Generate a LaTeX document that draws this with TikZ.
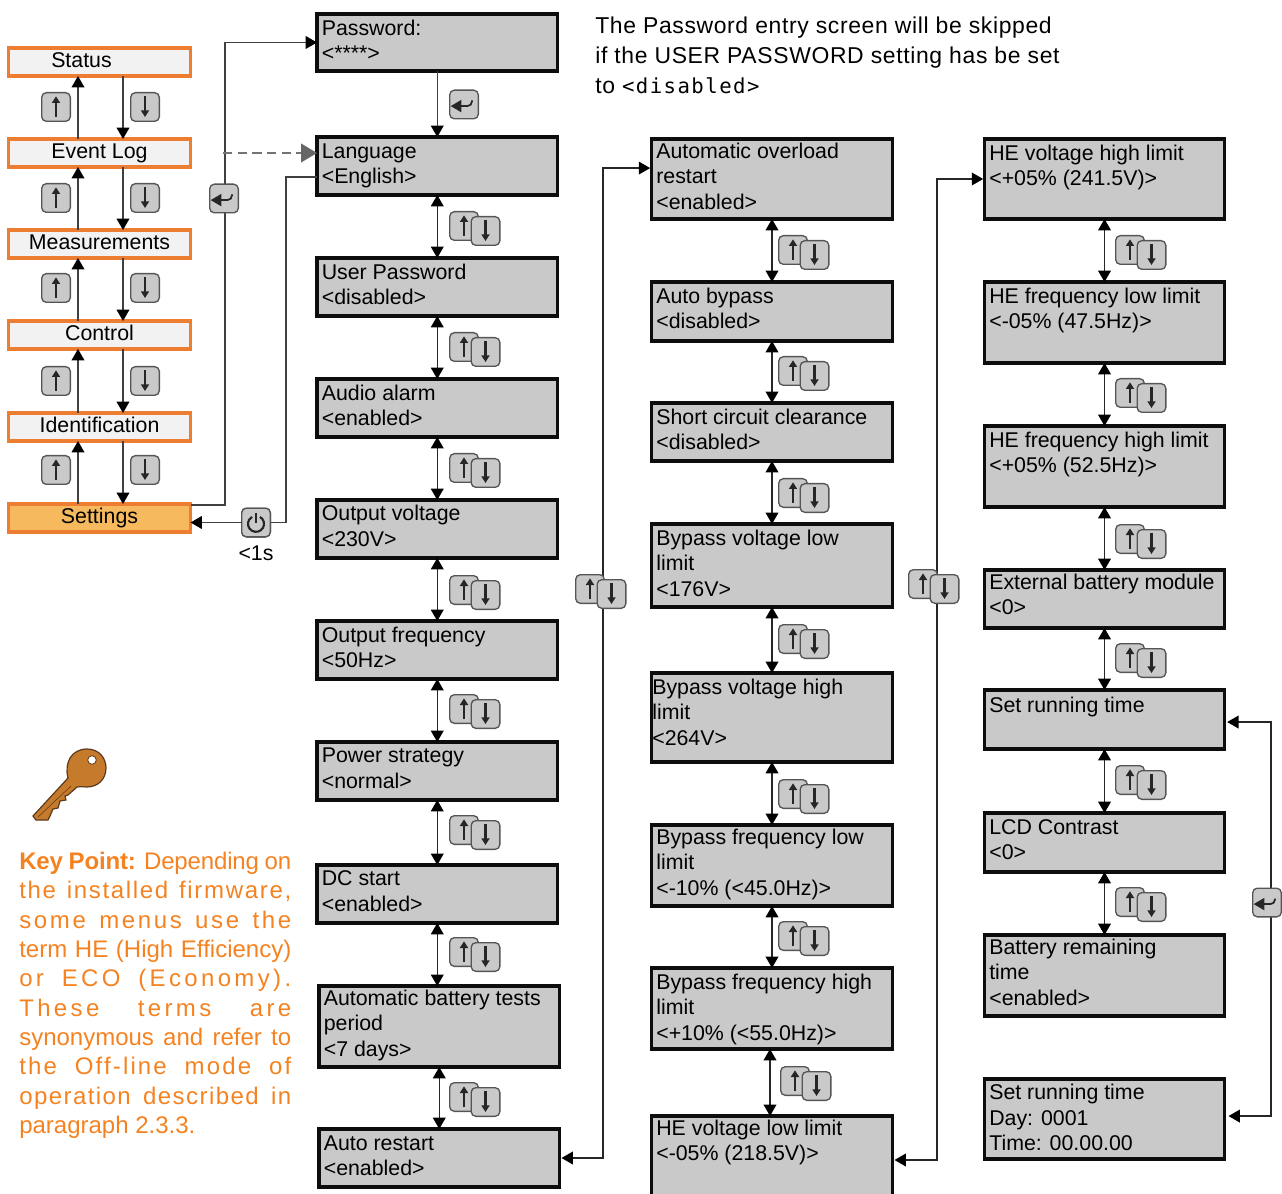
\documentclass[tikz,border=0pt]{standalone}
\usepackage{fontspec}
\setmainfont{Liberation Sans}
\setmonofont{DejaVu Sans Mono}
\usetikzlibrary{arrows.meta,calc}
\definecolor{boxgray}{HTML}{C9C9C9}
\definecolor{menuorange}{HTML}{ED7D31}
\definecolor{menufill}{HTML}{F2F2F2}
\definecolor{setfill}{HTML}{F6B95E}
\definecolor{keytext}{HTML}{F58220}
\definecolor{keyfill}{HTML}{C67A2C}
\definecolor{keyline}{HTML}{5C3A1C}
\definecolor{btnline}{HTML}{555555}
\tikzset{
  tipb/.tip={Triangle[length=8.5pt,width=9.5pt,color=black]},
  conn/.style={line width=1.1pt,draw=black!85,tipb-tipb},
  connend/.style={line width=1.1pt,draw=black!75,-tipb},
  plainline/.style={line width=1.1pt,draw=black!75},
  bigbox/.style={draw=black!95,line width=2.3pt,fill=boxgray,inner sep=0pt,outer sep=0pt,anchor=north west},
  menubox/.style={draw=menuorange,line width=2.3pt,fill=menufill,inner sep=0pt,outer sep=0pt,anchor=north west},
  btn/.style={draw=btnline,line width=1pt,fill=boxgray,rounded corners=3.5pt,minimum size=21.5pt,inner sep=0pt,outer sep=0pt},
  btnup/.style={btn,path picture={\draw[line width=1.7pt,black!85,-{Triangle[length=5pt,width=6pt]}] ([yshift=-7.5pt]path picture bounding box.center) -- ([yshift=8pt]path picture bounding box.center);}},
  btndn/.style={btn,path picture={\draw[line width=1.7pt,black!85,-{Triangle[length=5pt,width=6pt]}] ([yshift=8pt]path picture bounding box.center) -- ([yshift=-7.5pt]path picture bounding box.center);}},
  btnent/.style={btn,path picture={\draw[line width=1.3pt,black!85,-{Triangle[length=8pt,width=9pt]}] ([xshift=6pt,yshift=3pt]path picture bounding box.center) -- ([xshift=6pt,yshift=-1.2pt]path picture bounding box.center) -- ([xshift=-10pt,yshift=-1.2pt]path picture bounding box.center);}},
  btnpwr/.style={btn,path picture={
    \draw[line width=1.6pt,black!85] ([xshift=3pt,yshift=4.2pt]path picture bounding box.center) arc[start angle=60,end angle=-240,radius=6pt];
    \draw[line width=1.6pt,black!85] ([yshift=7.5pt]path picture bounding box.center) -- ([yshift=-.5pt]path picture bounding box.center);}},
  lbl/.style={inner sep=0pt,anchor=base west},
}
\def\ta{16.3pt}
\def\bx#1#2#3#4#5#6{%
  \pgfmathsetlengthmacro\bw{(#4-#2)*.75pt}\pgfmathsetlengthmacro\bh{(#5-#3)*.75pt}%
  \node[bigbox] (#1) at (#2,#3) {\parbox[c][\bh][t]{\bw}{\raggedright\leftskip=3.6pt\baselineskip=18.9pt\rule{0pt}{\ta}#6}};}
\def\mn#1#2#3#4#5{%
  \pgfmathsetlengthmacro\bh{(#3-#2)*.75pt}%
  \node[menubox,#1] (#4) at (8.5,#2) {\parbox[c][\bh][t]{136.5pt}{\centering\rule{0pt}{14.7pt}#5}};}
\def\pair#1#2#3{\node[btnup] (#1u) at (#2,#3) {}; \node[btndn] (#1d) at ({#2+21.5},{#3+5}) {};}
\def\kl#1#2{\makebox[204pt][s]{\addfontfeature{LetterSpace=#1}#2}\\}
\begin{document}
\begin{tikzpicture}[x=.75pt,y=-.75pt,font=\fontsize{16}{18.9}\selectfont]
\useasboundingbox (0,0) rectangle (1282,1194);
% column 1
\bx{pass}{317}{14}{557.5}{71}{Password:\\<****>}
\bx{lang}{317}{137}{557.5}{195}{Language\\<English>}
\bx{user}{317}{258}{557.5}{316}{User Password\\<disabled>}
\bx{audio}{317}{379}{557.5}{437}{Audio alarm\\<enabled>}
\def\ta{15.6pt}
\bx{ovolt}{317}{500}{557.5}{558}{Output voltage\\<230V>}
\def\ta{16.3pt}
\bx{ofreq}{317}{621}{557.5}{679}{Output frequency\\<50Hz>}
\def\ta{15.6pt}
\bx{power}{317}{742}{557.5}{800}{Power strategy\\<normal>}
\bx{dcst}{317}{865}{557.5}{923}{DC start\\<enabled>}
\def\ta{14.8pt}
\bx{abat}{319}{986}{559.5}{1067}{Automatic battery tests\\period\\<7 days>}
\def\ta{16.3pt}
\bx{arest}{319}{1129}{559.5}{1187}{Auto restart\\<enabled>}
% column 2
\def\ta{14.8pt}
\bx{aover}{651.5}{139}{892.5}{219}{Automatic overload\\restart\\<enabled>}
\def\ta{16.3pt}
\bx{abyp}{651.5}{282}{892.5}{341}{Auto bypass\\<disabled>}
\bx{short}{651.5}{403}{892.5}{461}{Short circuit clearance\\<disabled>}
\bx{bvl}{651.5}{524}{892.5}{607}{Bypass voltage low\\limit\\<176V>}
\bx{bvh}{651.5}{673}{892.5}{762}{\hspace*{-3pt}Bypass voltage high\\\hspace*{-3pt}limit\\\hspace*{-3pt}<264V>}
\def\ta{14.8pt}
\bx{bfl}{651.5}{825}{892.5}{906}{Bypass frequency low\\limit\\<-10\% (<45.0Hz)>}
\def\ta{16.3pt}
\bx{bfh}{651.5}{968}{892.5}{1049}{Bypass frequency high\\limit\\<+10\% (<55.0Hz)>}
\def\ta{14.8pt}
\bx{hvl}{651.5}{1116}{892.5}{1204}{HE voltage low limit\\<-05\% (218.5V)>}
\def\ta{16.3pt}
% column 3
\bx{hvh}{984.5}{139}{1224.5}{219}{HE voltage high limit\\<+05\% (241.5V)>}
\bx{hfl}{984.5}{282}{1224.5}{363}{HE frequency low limit\\<-05\% (47.5Hz)>}
\bx{hfh}{984.5}{426}{1224.5}{507}{HE frequency high limit\\<+05\% (52.5Hz)>}
\def\ta{14.8pt}
\bx{ext}{984.5}{570}{1224.5}{628}{External battery module\\<0>}
\def\ta{17pt}
\bx{setrun}{984.5}{690}{1224.5}{749}{Set running time}
\def\ta{16.3pt}
\bx{lcd}{984.5}{813}{1224.5}{872}{LCD Contrast\\<0>}
\def\ta{14.8pt}
\bx{brem}{984.5}{935}{1224.5}{1016}{Battery remaining\\time\\<enabled>}
\def\ta{15.6pt}
\bx{sett}{984.5}{1079}{1224.5}{1159}{Set running time\\Day: 0001\\Time: 00.00.00}
\def\ta{16.3pt}
% menu
\mn{}{48}{76}{status}{\hspace*{-27pt}Status}
\mn{}{139}{167}{event}{Event Log}
\mn{}{230}{258}{meas}{Measurements}
\mn{}{321}{349}{ctrl}{Control}
\mn{}{413}{441}{ident}{Identification}
\mn{fill=setfill}{504}{532}{settings}{Settings}
\coordinate (ux) at (78,0); \coordinate (dx) at (123,0);
\foreach \a/\b in {status/event,event/meas,meas/ctrl,ctrl/ident,ident/settings}{
  \draw[connend] (\b.north -| ux) -- (\a.south -| ux);
  \draw[connend] (\a.south -| dx) -- (\b.north -| dx);
}
\foreach \n/\y in {a/107,b/198,c/288,d/381,e/470}{
  \node[btnup] (m\n u) at (56,\y) {};
  \node[btndn] (m\n d) at (145,\y) {};
}
% column connectors
\foreach \a/\b in {lang/user,user/audio,audio/ovolt,ovolt/ofreq,ofreq/power,power/dcst,dcst/abat,abat/arest,
  aover/abyp,abyp/short,short/bvl,bvl/bvh,bvh/bfl,bfl/bfh,
  hvh/hfl,hfl/hfh,hfh/ext,ext/setrun,setrun/lcd,lcd/brem}{
  \draw[conn] (\a.south) -- (\a.south |- \b.north);
}
\draw[conn] ([xshift=-1.5pt]bfh.south) -- ([xshift=-1.5pt]hvl.north);
\draw[connend] (pass.south) -- (lang.north);
% side lines
\coordinate (r1) at (225,300); \coordinate (r2) at (286,300); \coordinate (r3) at (603,600); \coordinate (r4) at (937,600); \coordinate (r5) at (1271,900);
\coordinate (dashstart) at (223,153);
\node[btnpwr] (pwr) at (256,522.5) {};
\draw[connend] ([yshift=9.7pt]settings.east) -| (r1) |- (pass.west);
\draw[draw=black!55,line width=1.5pt,dash pattern=on 7pt off 4pt,-{Triangle[length=12pt,width=14pt,color=black!60]}] (dashstart) -- (dashstart -| lang.west);
\draw[plainline] ([yshift=-8.3pt]lang.west) -| (r2) |- (pwr.east);
\draw[conn] ([yshift=8.2pt,xshift=-1pt]aover.west) -| (r3) |- ([xshift=1.5pt]arest.east);
\draw[conn] ([xshift=-1pt]hvh.west) -| (r4) |- ([xshift=1.5pt]hvl.east);
\draw[conn] ([xshift=2pt,yshift=-1.9pt]setrun.east) -| (r5) |- ([xshift=3pt,yshift=2.2pt]sett.east);
% buttons
\node[btnent] (e1) at (464,104.5) {};
\node[btnent] (e2) at (224,198.5) {};
\node[btnent] (e3) at (1267,902.5) {};
\node[btnpwr] (pwr) at (256,522.5) {};
\draw[connend] (pwr.west) -- (pwr.west -| settings.east);
\node[inner sep=0pt] (onesec) at (256,553) {<1s};
\pair{pa}{464}{226}\pair{pb}{464}{347}\pair{pc}{464}{468}\pair{pd}{464}{590}\pair{pe}{464}{709}\pair{pf}{464}{830}\pair{pg}{464}{952}\pair{ph}{464}{1097}
\pair{qa}{793}{250}\pair{qb}{793}{371}\pair{qc}{793}{493}\pair{qd}{793}{639}\pair{qe}{793}{794}\pair{qf}{793}{936}\pair{qg}{795}{1081}
\pair{ra}{1130}{250}\pair{rb}{1130}{393}\pair{rc}{1130}{539}\pair{rd}{1130}{658}\pair{re}{1130}{780}\pair{rf}{1130}{902}
\pair{sa}{590}{589}\pair{sb}{923}{584}
% top text
\node[lbl,align=left,anchor=north west,font=\fontsize{17.2}{22.5}\selectfont\addfontfeature{LetterSpace=2.8}] (note) at (595,17)
 {The Password entry screen will be skipped\\if the USER PASSWORD setting has be set\\to {\ttfamily\fontsize{15.5}{22.5}\selectfont\addfontfeature{LetterSpace=7}<disabled>}};
% key
\path[fill=keyfill,draw=keyline,line width=.9pt]
  (68,778) .. controls (64,762) and (72,749) .. (87,749) .. controls (99,749) and (106,758) .. (106,768)
  .. controls (106,780) and (97,787) .. (87,787) .. controls (83,787) and (80,786) .. (77,787)
  -- (68,795) -- (65,796) -- (66,800) -- (60,801) -- (58,808) -- (53,809) -- (50,816) -- (48,820) -- (36,820) -- (33,816) -- cycle;
\path[fill=white,draw=keyline,line width=.6pt] (92,760) circle[radius=4.3];
\draw[keyline,line width=.4pt] (38,817) -- (71,786);
% key point
\node[lbl,anchor=north west,text=keytext,align=left,font=\fontsize{18}{22}\selectfont] (keypt) at (19,851.7)
 {\kl{-0.6}{\textbf{Key Point:} Depending on}\kl{7}{the installed firmware,}\kl{11}{some menus use the}\kl{0}{term HE (High Efficiency)}\kl{14}{or ECO (Economy).}\kl{14}{These terms are}\kl{0}{synonymous and refer to}\kl{9}{the Off-line mode of}\kl{6}{operation described in}paragraph 2.3.3.};
\end{tikzpicture}
\end{document}
